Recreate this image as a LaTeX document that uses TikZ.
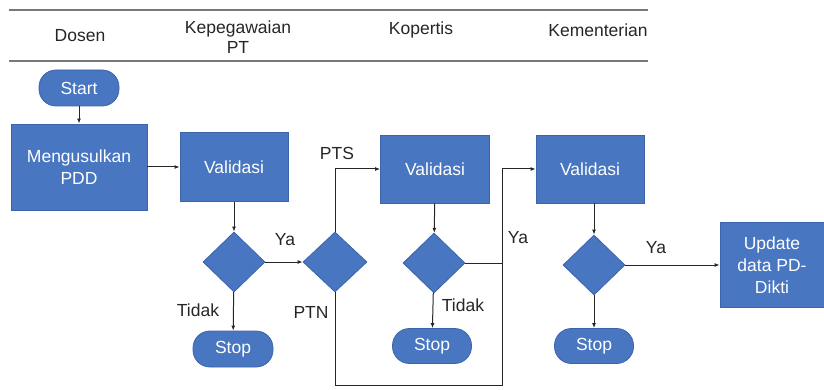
\documentclass[tikz,border=0pt]{standalone}
\usepackage{fontspec}
\setmainfont{Liberation Sans}
\usetikzlibrary{shapes.geometric,arrows.meta}
\definecolor{boxblue}{RGB}{72,118,192}
\definecolor{boxedge}{RGB}{60,100,170}
\definecolor{rule}{RGB}{120,120,120}
\tikzset{
  every node/.style={font=\fontsize{17.5}{22}\selectfont},
  proc/.style={draw=boxedge, line width=0.8pt, fill=boxblue, text=white, align=center, inner sep=0pt},
  term/.style={proc, rounded corners=17pt, minimum width=80pt, minimum height=36pt},
  decide/.style={diamond, aspect=1, draw=boxedge, line width=0.8pt, fill=boxblue, inner sep=0pt, minimum width=62pt, minimum height=60pt},
  arr/.style={draw=black!85, line width=1pt, -{Latex[length=5pt,width=4pt]}},
  link/.style={draw=black!85, line width=1pt},
  lbl/.style={text=black!85, inner sep=0pt},
  head/.style={text=black!85, align=center, inner sep=0pt}
}
\begin{document}
\begin{tikzpicture}[x=1pt,y=-1pt]
\useasboundingbox (0,0) rectangle (824,390);

% lane header
\draw[rule, line width=1.6pt] (9,10) -- (648,10);
\draw[rule, line width=1.6pt] (9,61) -- (648,61);
\node[head] (hdosen) at (80,36) {Dosen};
\node[head] (hpeg) at (238,37) {Kepegawaian\\[-2pt]PT};
\node[head] (hkop) at (421,30) {Kopertis};
\node[head] (hkem) at (598,30) {Kementerian};

% process steps
\node[term] (start) at (79,88) {Start};
\node[proc, minimum width=136pt, minimum height=86pt] (usul) at (79,167) {Mengusulkan\\PDD};
\node[proc, minimum width=108pt, minimum height=69pt] (val1) at (234,167) {Validasi};
\node[decide] (d1) at (234,262) {};
\node[term] (stop1) at (233,349) {Stop};
\node[decide, minimum width=64pt] (d2) at (335,262) {};

\node[proc, minimum width=109pt, minimum height=68pt] (val2) at (435,169) {Validasi};
\node[decide] (d3) at (434,263) {};
\node[term, minimum width=79pt, minimum height=35pt] (stop2) at (432,346) {Stop};

\node[proc, minimum width=108pt, minimum height=68pt] (val3) at (590,169) {Validasi};
\node[decide] (d4) at (594,265) {};
\node[term, minimum width=79pt, minimum height=35pt] (stop3) at (594,346) {Stop};
\node[proc, minimum width=104pt, minimum height=85pt] (upd) at (772,265) {Update\\data PD-\\Dikti};

% routing points
\coordinate (bot) at (335,385);
\coordinate (jn) at (502,263);

% connectors
\draw[arr] (start) -- (usul);
\draw[arr] (usul) -- (val1);
\draw[arr] (val1) -- (d1);
\draw[arr] (d1) -- (stop1);
\draw[arr] (d1) -- (d2);
\draw[arr] (d2.north) |- (val2.west);
\draw[link] (d2.south) -- (bot) -| (jn);
\draw[arr] (val2) -- (d3);
\draw[arr] (d3) -- (stop2);
\draw[arr] (d3.east) -- (jn) |- (val3.west);
\draw[arr] (d4.north |- val3.south) -- (d4.north);
\draw[arr] (d4) -- (stop3);
\draw[arr] (d4) -- (upd);

% branch labels
\node[lbl] (ya1) at (285,240) {Ya};
\node[lbl] (tidak1) at (198,310) {Tidak};
\node[lbl] (pts) at (337,153) {PTS};
\node[lbl] (ptn) at (311,312) {PTN};
\node[lbl] (tidak2) at (463,305) {Tidak};
\node[lbl] (ya2) at (518,238) {Ya};
\node[lbl] (ya3) at (656,248) {Ya};
\end{tikzpicture}
\end{document}
